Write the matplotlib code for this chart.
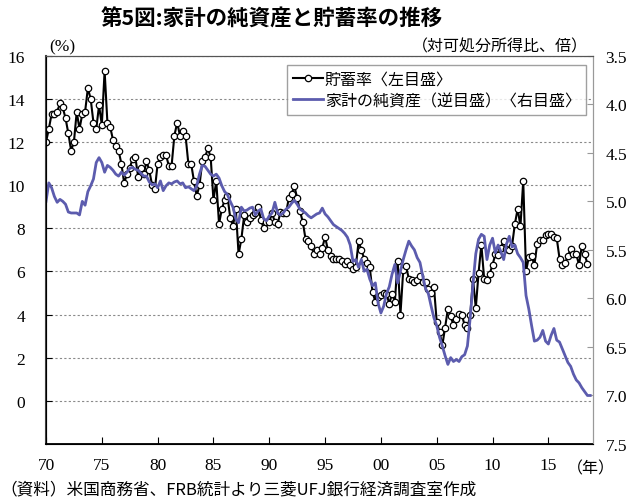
import numpy as np
import matplotlib
matplotlib.use("Agg")
import matplotlib.pyplot as plt
from matplotlib.lines import Line2D

# =======================
# Datos (trimestrales, 1970Q1 ~)
# =======================
start_year = 1970

# 貯蓄率 (%), 1970Q1 - 2018Q3
saving_rate = [
    12.0, 12.6, 13.3, 13.3,   13.4, 13.8, 13.6, 13.1,   # 70, 71
    12.4, 11.6, 12.0, 13.4,   12.6, 13.3, 13.4, 14.5,   # 72, 73
    14.0, 12.9, 12.6, 13.7,   12.8, 15.3, 12.9, 12.7,   # 74, 75
    12.1, 11.8, 11.6, 11.0,   10.1, 10.5, 10.8, 11.2,   # 76, 77
    11.3, 10.4, 10.8, 10.5,   11.1, 10.7, 10.0, 9.8,    # 78, 79
    11.0, 11.3, 11.4, 11.4,   10.9, 10.9, 12.3, 12.9,   # 80, 81
    12.3, 12.5, 12.3, 11.0,   11.0, 10.2, 9.5, 10.0,    # 82, 83
    11.1, 11.3, 11.7, 11.3,   9.3, 10.2, 8.2, 8.9,      # 84, 85
    9.3, 9.5, 8.5, 8.1,       8.9, 6.8, 7.5, 8.6,       # 86, 87
    8.3, 8.5, 8.6, 8.7,       9.0, 8.4, 8.0, 8.3,       # 88, 89
    8.3, 8.7, 8.3, 8.2,       8.75, 8.7, 8.7, 9.4,      # 90, 91
    9.6, 9.95, 9.4, 8.8,      8.3, 7.5, 7.4, 7.2,       # 92, 93
    6.8, 7.0, 6.8, 7.1,       7.6, 7.0, 6.7, 6.6,       # 94, 95
    6.6, 6.6, 6.5, 6.35,      6.5, 6.3, 6.1, 6.2,       # 96, 97
    7.4, 7.0, 6.6, 6.4,       6.2, 5.05, 4.6, 4.8,      # 98, 99
    4.9, 5.0, 4.97, 4.5,      4.97, 4.6, 6.5, 4.0,      # 00, 01
    6.05, 6.25, 5.66, 5.6,    5.5, 5.6, 5.8, 5.5,       # 02, 03
    5.5, 5.2, 5.0, 5.3,       3.66, 3.2, 2.57, 3.4,     # 04, 05
    4.27, 3.93, 3.5, 3.8,     4.04, 4.0, 3.5, 3.4,      # 06, 07
    3.96, 5.66, 4.3, 5.95,    7.24, 5.66, 5.6, 5.9,     # 08, 09
    6.3, 6.8, 6.77, 7.1,      7.43, 7.05, 7.0, 7.2,     # 10, 11
    8.2, 8.9, 8.1, 10.2,      6.0, 6.67, 6.7, 6.3,      # 12, 13
    7.28, 7.45, 7.45, 7.67,   7.75, 7.75, 7.6, 7.55,    # 14, 15
    6.6, 6.3, 6.4, 6.7,       7.05, 6.8, 6.8, 6.3,      # 16, 17
    7.2, 6.8, 6.35,                                     # 18
]

# 家計の純資産 (対可処分所得比、倍), 1970Q1 - 2018Q4
net_worth = [
    5.0, 4.81, 4.86, 4.95,    5.01, 4.98, 5.0, 5.03,    # 70, 71
    5.11, 5.12, 5.12, 5.12,   5.14, 5.0, 5.04, 4.9,     # 72, 73
    4.84, 4.77, 4.6, 4.55,    4.6, 4.7, 4.63, 4.65,     # 74, 75
    4.68, 4.72, 4.74, 4.7,    4.73, 4.7, 4.66, 4.65,    # 76, 77
    4.67, 4.68, 4.71, 4.74,   4.74, 4.8, 4.83, 4.82,    # 78, 79
    4.86, 4.79, 4.89, 4.84,   4.81, 4.82, 4.8, 4.79,    # 80, 81
    4.82, 4.81, 4.86, 4.85,   4.87, 4.89, 4.84, 4.72,   # 82, 83
    4.63, 4.64, 4.68, 4.72,   4.74, 4.72, 4.76, 4.84,   # 84, 85
    4.9, 4.93, 5.0, 5.06,     5.18, 5.22, 5.06, 5.1,    # 86, 87
    5.09, 5.07, 5.06, 5.14,   5.1, 5.08, 5.18, 5.2,     # 88, 89
    5.15, 5.12, 5.01, 5.12,   5.14, 5.12, 5.08, 5.06,   # 90, 91
    5.02, 4.99, 5.03, 5.08,   5.1, 5.12, 5.15, 5.17,    # 92, 93
    5.15, 5.13, 5.12, 5.07,   5.13, 5.16, 5.2, 5.24,    # 94, 95
    5.26, 5.28, 5.3, 5.33,    5.37, 5.45, 5.62, 5.6,    # 96, 97
    5.68, 5.6, 5.72, 5.7,     5.8, 5.87, 5.84, 6.05,    # 98, 99
    6.15, 6.08, 5.95, 5.88,   5.75, 5.65, 5.84, 5.72,   # 00, 01
    5.6, 5.5, 5.41, 5.46,     5.5, 5.58, 5.63, 5.77,    # 02, 03
    5.9, 5.95, 6.08, 6.2,     6.28, 6.4, 6.49, 6.59,    # 04, 05
    6.68, 6.61, 6.65, 6.63,   6.65, 6.6, 6.58, 6.49,    # 06, 07
    6.2, 5.85, 5.54, 5.39,    5.34, 5.36, 5.6, 5.45,    # 08, 09
    5.38, 5.53, 5.45, 5.52,   5.6, 5.44, 5.36, 5.47,    # 10, 11
    5.45, 5.54, 5.58, 5.63,   5.97, 6.11, 6.28, 6.44,   # 12, 13
    6.43, 6.4, 6.33, 6.44,    6.47, 6.38, 6.31, 6.43,   # 14, 15
    6.45, 6.52, 6.59, 6.66,   6.7, 6.78, 6.84, 6.87,    # 16, 17
    6.92, 6.96, 7.0, 7.0,                               # 18
]

xtick_years = [1970, 1975, 1980, 1985, 1990, 1995, 2000, 2005, 2010, 2015]
xtick_labels = ["70", "75", "80", "85", "90", "95", "00", "05", "10", "15"]
left_ticks = [0, 2, 4, 6, 8, 10, 12, 14, 16]
right_ticks = [3.5, 4.0, 4.5, 5.0, 5.5, 6.0, 6.5, 7.0, 7.5]

# =======================
# Estilo
# =======================
JP = ["Noto Sans CJK JP", "DejaVu Sans"]
plt.rcParams["font.family"] = ["Liberation Serif", "Noto Sans CJK JP"]

BLUE = "#5c5cae"

x_sav = start_year + np.arange(len(saving_rate)) / 4
x_nw = start_year + np.arange(len(net_worth)) / 4

fig = plt.figure(figsize=(6.32, 5.02), dpi=100)
ax = fig.add_axes([0.0728, 0.1135, 0.8655, 0.7735])
ax2 = ax.twinx()

# 貯蓄率 (eje izquierdo)
ax.plot(x_sav, saving_rate, color="black", lw=1.5, marker="o", ms=4.6,
        mfc="white", mec="black", mew=0.9, zorder=3)
ax.set_ylim(-2, 16)
ax.set_yticks(left_ticks)
ax.set_xlim(1970, 2019)
ax.set_xticks(xtick_years)
ax.set_xticklabels(xtick_labels)
ax.grid(axis="y", linestyle=(0, (2, 2)), color="#8a8a8a", lw=0.8)
ax.set_axisbelow(True)

# 純資産 (eje derecho, invertido)
ax2.plot(x_nw, net_worth, color=BLUE, lw=2.0, zorder=2)
ax2.set_ylim(7.5, 3.5)
ax2.set_yticks(right_ticks)
ax2.set_yticklabels([f"{v:.1f}" for v in right_ticks])

ax.tick_params(axis="y", direction="in", length=4, labelsize=12.5, pad=15)
ax.tick_params(axis="x", direction="in", length=5, labelsize=12.5, pad=9)
ax2.tick_params(axis="y", direction="in", length=4, color="#999999",
                labelsize=12.5, pad=9)

ax.spines["left"].set_color("#444444")
ax.spines["left"].set_linewidth(1.5)
ax.spines["bottom"].set_color("black")
ax.spines["bottom"].set_linewidth(1.3)
for a in (ax, ax2):
    a.spines["top"].set_color("#555555")
    a.spines["right"].set_color("#999999")

# Leyenda
handles = [
    Line2D([], [], color="black", lw=1.5, marker="o", ms=4.6, mfc="white",
           mec="black", mew=0.9),
    Line2D([], [], color=BLUE, lw=2.0),
]
labels = ["貯蓄率〈左目盛〉", "家計の純資産（逆目盛）〈右目盛〉"]
leg = ax2.legend(handles, labels, loc="upper right",
                 bbox_to_anchor=(0.988, 0.975), prop={"family": JP, "size": 11.5},
                 frameon=True, fancybox=False, edgecolor="#888888",
                 handlelength=1.9, handletextpad=0.1, borderpad=0.35,
                 labelspacing=0.25, borderaxespad=0)
leg.get_frame().set_linewidth(1.0)

# Textos
fig.text(272 / 632, 0.962, "第5図:家計の純資産と貯蓄率の推移", ha="center", va="center",
         family=JP, fontsize=15.5, fontweight="bold")
fig.text(49 / 632, 1 - 47 / 502, "(%)", ha="left", va="center", fontsize=12.5)
fig.text(588 / 632, 1 - 47 / 502, "（対可処分所得比、倍）", ha="right", va="center",
         family=JP, fontsize=11.5)
fig.text(591 / 632, 1 - 469 / 502, "（年）", ha="center", va="center",
         family=JP, fontsize=11.5)
fig.text(0.0, 1 - 490 / 502, "（資料）米国商務省、FRB統計より三菱UFJ銀行経済調査室作成",
         ha="left", va="center", family=JP, fontsize=12)

fig.savefig("out.png", dpi=100)
